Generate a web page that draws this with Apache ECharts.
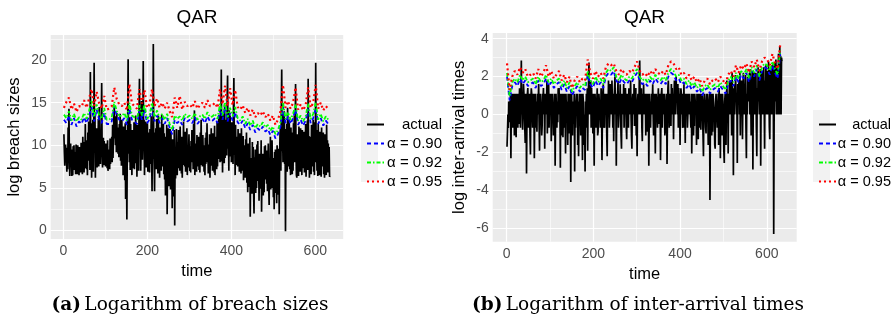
<!DOCTYPE html>
<html><head><meta charset="utf-8">
<script src="https://cdn.jsdelivr.net/npm/echarts@6/dist/echarts.min.js"></script>
<style>html,body{margin:0;padding:0;background:#fff}#c{width:895px;height:320px}</style>
</head><body><div id="c"></div>
<script>
// "actual" series: one value per observation, time = 1..635
// quantile series: read every 6th observation, at these times
const timeQ = [1,7,13,19,25,31,37,43,49,55, 61,67,73,79,85,91,97,103,109,115, 121,127,133,139,145,151,157,163,169,175,
 181,187,193,199,205,211,217,223,229,235, 241,247,253,259,265,271,277,283,289,295, 301,307,313,319,325,331,337,343,349,355,
 361,367,373,379,385,391,397,403,409,415, 421,427,433,439,445,451,457,463,469,475, 481,487,493,499,505,511,517,523,529,535,
 541,547,553,559,565,571,577,583,589,595, 601,607,613,619,625,631];

// (a) log breach sizes
const breachActual = [
 11.3,9.2,7.6, 7.4,10.1,8.3, 8.8,6.9,9.7, 7.2,12.1,9.0, 14.3,8.5,6.4, 6.5,10.2,7.9, 9.5,6.4,8.6, 6.5,9.9,7.3, 10.0,7.1,9.2, 7.8,6.6,10.1,
 8.0,9.4,6.6, 10.0,7.7,8.9, 6.5,9.8,7.4, 9.6,6.8,10.3, 7.0,8.7,6.6, 11.0,7.6,9.3, 6.8,10.4,8.1, 12.5,7.3,10.6, 7.2,9.6,6.5, 11.5,8.2,12.8,
 9.0,11.8,7.1, 18.6,8.4,12.6, 6.2,10.9,7.6, 13.0,6.9,11.4, 19.7,9.1,13.6, 6.2,11.7,8.3, 12.0,7.4,10.2, 8.0,13.1,7.5, 14.5,8.8,11.3, 7.8,10.5,12.9,
 17.3,9.6,7.4, 8.0,10.9,7.7, 10.5,8.2,9.6, 7.5,10.2,8.1, 9.8,7.3,10.6, 7.0,9.1,8.4, 9.5,7.2,10.8, 7.8,9.4,8.6, 11.0,8.0,12.4, 8.5,10.7,13.2,
 14.5,10.8,12.9, 10.0,13.4,9.2, 13.8,9.9,12.1, 9.0,11.7,8.6, 12.5,9.4,13.7, 8.2,11.9,7.6, 13.0,8.9,11.4, 6.5,12.2,8.0, 10.5,5.9,12.6, 3.7,11.8,8.5,
 1.3,9.7,13.1, 20.1,9.0,11.6, 8.0,13.3,7.1, 12.5,8.7,10.9, 6.5,11.8,9.2, 11.0,7.3,12.7, 7.2,10.3,8.5, 13.5,7.9,11.1, 6.3,12.4,9.0, 10.5,7.0,13.9,
 17.8,9.5,12.8, 7.0,11.4,15.2, 12.0,8.3,10.6, 19.9,9.7,13.0, 6.5,10.8,8.1, 12.8,7.4,11.2, 8.0,12.6,6.9, 11.5,8.6,10.1, 6.8,11.9,7.8, 10.0,13.4,9.1,
 4.6,12.3,8.4, 21.9,10.2,7.9, 4.6,11.5,8.0, 12.0,7.2,13.1, 8.5,11.0,6.7, 13.5,9.4,10.9, 6.2,12.1,8.3, 11.0,7.0,13.6, 7.5,10.8,8.9, 12.5,6.6,11.4,
 6.0,9.7,4.1, 11.0,7.5,12.4, 1.9,9.1,6.4, 12.0,5.2,10.3, 6.0,11.9,4.8, 11.5,7.6,9.2, 2.6,10.7,5.5, 10.0,4.0,11.8, 0.6,8.9,6.1, 9.0,11.9,7.2,
 6.5,10.4,8.0, 11.8,7.3,9.9, 7.0,12.2,8.4, 9.5,6.7,11.0, 6.2,9.8,7.7, 12.8,8.1,10.4, 7.5,11.6,6.9, 10.5,8.3,12.0, 6.5,9.6,7.4, 9.0,11.3,8.2,
 7.0,9.9,6.8, 10.5,8.0,11.8, 8.0,10.6,7.2, 12.5,8.8,14.1, 6.5,10.2,7.9, 9.5,6.9,11.2, 7.5,10.8,8.4, 11.0,7.1,9.7, 6.8,11.5,8.8, 13.0,7.7,10.3,
 7.5,11.2,8.6, 10.0,6.9,9.4, 6.5,10.9,7.8, 11.5,8.3,12.6, 8.0,10.1,6.7, 9.5,7.4,11.3, 6.2,9.9,8.1, 12.0,7.6,10.7, 7.0,11.4,8.5, 10.5,6.8,12.3,
 6.5,10.3,8.7, 11.0,7.2,12.8, 7.5,11.9,9.0, 13.5,8.4,10.9, 8.0,14.6,9.3, 18.9,8.1,12.2, 6.8,13.7,9.5, 12.5,7.9,14.8, 8.5,11.6,9.1, 13.0,8.8,15.4,
 18.2,9.6,12.9, 7.0,14.1,8.7, 13.5,9.2,11.8, 8.0,12.7,9.9, 12.0,7.8,14.3, 17.9,8.9,11.5, 6.5,12.4,9.3, 11.0,7.7,10.6, 7.5,11.9,8.2, 10.5,6.9,11.4,
 8.0,10.8,6.7, 12.0,8.4,9.7, 7.0,11.1,5.9, 10.0,6.8,9.2, 6.2,10.7,7.9, 11.5,5.6,8.8, 4.5,10.2,6.4, 9.0,5.1,10.9, 1.6,8.3,6.0, 8.5,4.3,10.4,
 6.0,9.8,4.7, 2.0,8.6,6.3, 9.5,4.4,7.8, 5.0,10.1,6.6, 10.5,5.8,8.2, 3.5,9.0,5.4, 8.0,4.9,10.6, 2.2,7.7,5.9, 9.0,4.1,8.4, 4.5,9.9,6.2,
 10.0,6.0,8.9, 5.5,9.4,4.6, 7.5,10.2,5.3, 3.0,8.1,6.7, 11.0,4.8,9.0, 5.0,10.6,6.2, 8.5,3.9,7.6, 2.5,9.2,5.7, 9.5,4.4,8.3, 3.2,10.0,6.0,
 7.5,4.2,9.6, 1.9,8.8,11.4, 12.0,7.0,14.2, 18.9,9.3,12.7, 8.0,13.5,10.1, 14.0,7.8,11.9, -0.1,10.6,8.2, 12.5,6.9,14.4, 7.5,11.3,8.6, 13.0,7.2,10.8,
 6.5,12.1,8.3, 11.5,6.6,10.2, 7.0,12.6,9.1, 13.5,8.0,11.7, 17.2,9.4,6.5, 6.2,11.3,8.8, 10.5,6.4,12.2, 7.5,10.9,6.9, 12.0,8.1,10.4, 6.5,11.8,7.7,
 10.0,7.3,11.6, 6.8,10.7,8.4, 12.5,6.3,9.8, 8.0,12.9,7.1, 17.8,8.7,11.1, 6.2,10.3,7.8, 11.0,6.6,12.4, 7.5,11.2,8.9, 13.0,6.9,10.1, 6.5,12.7,8.0,
 19.7,8.4,11.8, 7.0,10.9,6.4, 12.5,8.1,10.2, 6.5,11.6,7.4, 10.5,6.3,12.1, 7.5,10.4,8.2, 11.5,6.6,9.7, 6.2,11.3,7.9, 10.0,6.5,12.4, 7.0,10.6,6.8,
 10.2,7.1,9.8, 6.3,6.4];
const breachQ90 = [13.0,12.6,13.5,12.4,13.2,12.2,12.8,12.5,13.3,12.6, 13.5,14.5,12.8,14.2,13.0,12.6,13.8,12.5,12.5,12.8,
 14.6,13.5,13.0,12.8,13.2,12.4,14.3,13.0,12.8,12.5, 14.0,13.0,14.2,12.6,13.0,14.4,12.8,13.5,12.6,13.2,
 12.5,13.2,12.0,11.3,13.0,12.6,12.9,12.4,13.2,12.8, 13.0,12.6,13.3,12.5,12.9,13.1,12.6,13.4,12.8,12.9,
 13.2,12.6,14.3,13.0,14.5,12.8,13.8,12.9,13.9,12.7, 12.4,12.9,12.0,12.6,11.8,12.4,11.5,12.0,11.7,12.2,
 11.6,11.9,11.2,11.7,10.8,11.3,12.2,14.5,12.6,13.4, 12.5,13.2,14.2,12.4,13.0,12.3,12.9,14.3,12.6,13.2,
 14.4,12.5,13.2,12.3,12.9,12.5];
const breachQ92 = [13.6,13.2,14.0,12.9,13.7,12.8,13.3,13.0,13.8,13.1, 14.1,15.2,13.3,14.8,13.5,13.1,14.4,13.0,13.0,13.3,
 15.1,14.0,13.5,13.4,13.8,12.9,15.0,13.5,13.3,13.0, 14.7,13.5,14.8,13.1,13.5,15.0,13.3,14.1,13.1,13.7,
 13.0,13.7,12.5,11.8,13.5,13.1,13.4,12.9,13.7,13.3, 13.5,13.1,13.8,13.0,13.4,13.6,13.1,13.9,13.3,13.4,
 13.7,13.1,14.9,13.5,15.1,13.3,14.4,13.4,14.5,13.2, 12.9,13.4,12.5,13.1,12.3,12.9,12.0,12.5,12.2,12.7,
 12.1,12.4,11.7,12.2,11.3,11.8,12.7,15.1,13.1,13.9, 13.0,13.7,14.8,12.9,13.5,12.8,13.4,14.9,13.1,13.7,
 15.0,13.0,13.7,12.8,13.4,13.0];
const breachQ95 = [14.4,15.1,15.6,14.2,14.9,13.9,14.6,14.5,15.3,14.4, 15.5,16.6,14.6,16.3,14.9,14.3,15.8,14.2,14.3,14.6,
 16.8,15.4,14.8,14.6,15.0,14.1,17.2,14.9,14.6,14.3, 16.6,14.9,16.5,14.4,14.8,16.6,14.6,15.5,14.4,15.0,
 14.3,15.0,14.0,13.3,15.6,14.4,15.8,14.2,15.1,14.6, 14.8,14.4,15.2,14.3,14.7,15.0,14.4,15.3,14.6,14.7,
 15.0,14.4,16.6,14.8,17.0,14.6,16.7,14.7,16.5,14.5, 14.2,14.7,13.8,14.4,13.5,14.2,13.3,13.8,13.5,14.0,
 13.3,13.7,12.9,13.5,12.4,13.0,14.0,17.1,14.4,15.2, 14.3,15.0,16.8,14.2,14.8,14.1,14.7,16.8,14.4,15.0,
 17.1,14.3,15.0,14.1,14.6,14.3];

// (b) log inter-arrival times
const iatActual = [
 -1.7,-0.9,0.0, -0.7,0.69,-0.4, 0.7,0.0,1.1, -2.3,0.69,0.0, 1.1,-0.69,0.69, 0.0,1.1,-1.1, 1.1,0.0,0.69, -1.2,1.1,0.0, 0.7,-0.69,1.1, -0.5,0.69,1.39,
 1.1,-0.69,0.69, 2.85,0.0,1.1, -0.8,0.69,1.61, 1.1,0.0,-0.69, -1.5,1.1,0.69, -3.1,0.0,1.1, 1.4,-0.69,0.69, 0.0,1.1,-1.1, -2.1,0.69,1.39, 1.1,0.0,-0.69,
 0.0,1.1,0.69, -2.3,0.0,1.1, 1.1,-0.69,0.69, -0.9,1.1,0.0, 0.7,1.61,-0.4, -1.9,0.69,1.1, 1.1,0.0,-1.1, -0.6,1.1,0.69, 1.4,0.0,0.69, -1.8,1.1,0.0,
 1.1,0.0,1.79, -1.0,0.69,0.0, 1.6,-0.69,1.1, 0.0,1.1,0.69, -1.4,0.69,1.1, 1.1,0.0,-1.1, -0.7,1.1,0.69, -2.7,0.0,1.1, 1.1,-0.69,0.69, -0.4,1.39,0.0,
 1.4,0.0,0.69, -2.8,1.1,0.0, 0.7,-1.1,1.1, -1.2,0.69,0.0, 1.1,-0.69,0.69, -2.05,1.1,0.0, 0.0,0.69,-1.6, 1.1,0.0,-0.69, -1.0,1.1,0.69, -3.55,0.0,1.1,
 1.1,-1.1,0.69, -0.5,0.0,1.1, -3.0,0.69,-0.69, 0.7,1.1,0.0, 1.1,-1.6,0.69, -2.2,0.0,1.1, 0.0,0.69,-1.1, 1.1,-0.69,0.0, -2.4,1.1,0.69, 0.7,-1.6,0.0,
 -3.0,0.69,0.0, 1.1,-0.69,1.39, -1.9,0.69,1.61, 2.75,0.0,1.1, 0.0,1.79,-0.69, 1.4,0.0,0.69, -1.0,1.1,0.0, -2.7,0.69,1.1, 1.1,-0.69,0.0, 0.7,1.39,-1.1,
 -0.9,0.69,1.1, 1.1,0.0,-0.69, 0.0,1.39,0.69, -2.4,0.0,1.1, 1.6,-0.69,0.69, -0.7,1.1,0.0, 1.1,0.69,-1.1, -2.2,1.1,0.0, 1.8,0.69,-0.69, 0.0,1.61,0.69,
 1.1,0.0,1.79, 0.7,-0.69,1.1, -1.4,0.69,1.39, 2.0,0.0,1.1, -2.7,0.69,0.0, 1.1,1.79,-0.69, 0.0,1.1,0.69, 1.6,0.0,-1.1, -1.8,1.1,0.69, 1.1,0.0,1.61,
 -0.7,1.1,0.0, 1.4,0.69,-0.69, -1.3,1.1,0.0, 1.1,-0.69,1.39, 0.0,1.1,0.69, 1.8,0.0,-1.1, -1.8,0.69,1.1, 1.1,0.0,1.61, -0.6,1.1,0.69, 1.4,-1.1,0.0,
 -2.2,0.69,1.1, 1.1,0.0,1.79, 2.85,0.69,0.0, 0.7,1.39,-0.69, -1.4,1.1,0.0, 1.6,0.0,0.69, 0.0,1.1,-1.1, 1.1,0.69,0.0, -0.9,1.1,0.69, -2.7,0.0,1.1,
 1.1,-0.69,0.69, 0.0,1.1,0.69, 1.6,0.0,-1.1, -0.8,1.1,0.0, -2.05,0.69,1.1, 1.1,0.0,-0.69, 0.7,1.39,0.0, -0.5,1.1,0.69, -2.4,0.0,1.1, 1.4,-0.69,0.69,
 0.0,1.1,0.69, 1.1,-1.1,0.0, -1.0,0.69,1.1, -2.6,0.0,1.39, 1.8,0.69,-0.69, 0.7,1.1,0.0, -0.6,1.61,0.69, 1.4,0.0,1.1, -1.3,0.69,1.79, 1.1,0.0,1.39,
 2.0,0.69,1.1, 0.0,1.61,-0.69, 1.4,0.0,1.1, -1.6,0.69,1.39, 1.1,0.0,0.69, -0.7,1.1,0.0, 1.6,-0.69,0.69, -1.5,1.1,0.0, 1.1,0.69,-0.69, 0.0,1.1,0.69,
 1.1,0.0,0.69, 0.7,-0.69,1.1, -2.05,0.0,0.69, 1.1,-1.1,0.0, -0.6,1.1,0.69, 0.0,0.69,-1.6, 1.1,0.0,0.69, -1.3,1.1,0.0, 0.7,-0.69,1.1, -0.8,0.69,0.0,
 1.1,0.0,-1.1, -2.2,0.69,1.1, 0.7,0.0,-0.69, -1.0,1.1,0.69, 1.1,0.0,-1.6, 0.0,0.69,1.1, -4.5,0.0,0.69, 1.1,-1.1,0.0, -0.9,1.1,0.69, 0.7,0.0,-1.6,
 -1.8,0.69,1.1, 1.1,0.0,-0.69, 0.0,1.1,-1.6, 1.4,0.0,0.69, -2.3,1.1,0.0, 0.7,-1.1,1.1, 1.1,0.0,-1.9, -2.55,0.69,1.1, 0.0,-1.6,0.69, 1.8,0.0,1.1,
 -2.05,1.1,0.69, 1.8,0.0,1.39, 0.0,1.79,-1.1, 2.2,0.69,1.1, -3.2,1.39,0.0, 1.6,0.69,2.08, 2.0,0.0,1.1, -2.55,1.61,0.69, 0.7,1.79,0.0, 2.2,-1.1,1.39,
 0.0,1.79,0.69, -1.3,1.1,2.2, 2.3,0.0,1.39, 1.1,2.08,-0.69, -2.3,1.1,0.0, 2.0,0.69,1.79, 0.7,2.2,0.0, 2.4,1.1,-1.1, 0.0,1.61,2.3, -2.9,1.39,0.0,
 2.2,0.0,1.61, 0.7,2.2,-0.69, -2.2,1.39,0.0, 2.5,0.69,1.79, 1.1,0.0,2.4, -2.7,1.1,2.08, 2.3,0.0,1.39, 0.0,2.5,0.69, -1.8,1.79,0.0, 2.6,1.1,0.0,
 0.7,2.3,0.0, 2.8,1.1,-0.69, -1.3,2.4,0.69, 2.2,0.0,2.6, 0.0,1.79,2.7, -6.3,0.0,2.2, 2.7,0.69,2.9, 0.0,2.6,0.0, 2.5,0.0,3.2, 3.3,0.0,3.6,
 0.0,3.1,0.0, 3.0,2.8];
const iatQ90 = [2.0,0.75,1.5,1.7,1.5,1.9,1.6,1.8,1.5,1.6, 1.7,1.4,1.8,1.5,1.6,1.9,1.5,1.7,1.4,1.6,
 1.7,1.3,1.6,1.2,1.5,1.0,1.3,1.5,1.2,1.4, 1.3,2.1,1.6,1.4,1.8,1.5,1.7,1.4,2.0,2.2,
 2.1,2.3,1.8,1.6,1.9,1.7,1.6,1.8,1.7,2.0, 2.2,1.8,1.6,1.7,1.5,1.8,1.6,1.9,1.7,1.6,
 1.8,1.6,2.0,2.2,2.1,1.8,1.9,1.6,1.7,1.4, 1.6,1.3,1.5,1.2,1.4,1.0,1.3,1.4,1.1,1.3,
 1.4,1.2,1.5,1.3,1.1,1.6,1.8,1.5,2.0,1.7, 2.1,1.9,2.2,1.7,2.3,2.0,2.4,1.8,2.3,2.5,
 2.4,2.1,2.6,2.2,1.9,3.2];
const iatQ92 = [2.2,0.95,1.7,1.9,1.7,2.1,1.8,2.0,1.7,1.8, 1.9,1.6,2.0,1.7,1.8,2.1,1.7,1.9,1.6,1.8,
 1.9,1.5,1.8,1.4,1.7,1.2,1.5,1.7,1.4,1.6, 1.5,2.3,1.8,1.6,2.0,1.7,1.9,1.6,2.2,2.4,
 2.3,2.5,2.0,1.8,2.1,1.9,1.8,2.0,1.9,2.2, 2.4,2.0,1.8,1.9,1.7,2.0,1.8,2.1,1.9,1.8,
 2.0,1.8,2.2,2.4,2.3,2.0,2.1,1.8,1.9,1.6, 1.8,1.5,1.7,1.4,1.6,1.2,1.5,1.6,1.3,1.5,
 1.6,1.4,1.7,1.5,1.3,1.8,2.0,1.7,2.2,1.9, 2.3,2.1,2.4,1.9,2.5,2.2,2.6,2.0,2.5,2.7,
 2.6,2.3,2.8,2.4,2.1,3.4];
const iatQ95 = [2.7,1.3,2.0,2.3,2.1,2.5,2.2,2.4,2.0,2.1, 2.2,1.9,2.4,2.0,2.2,2.6,2.0,2.3,1.9,2.1,
 2.3,1.8,2.1,1.7,2.0,1.4,1.8,2.0,1.7,1.9, 1.8,2.9,2.2,1.9,2.3,2.0,2.2,1.9,2.5,2.7,
 2.6,2.7,2.3,2.1,2.4,2.2,2.1,2.3,2.2,2.5, 2.8,2.3,2.1,2.2,2.0,2.3,2.1,2.4,2.2,2.1,
 2.3,2.1,2.6,2.8,2.7,2.4,2.5,2.1,2.2,1.9, 2.1,1.8,2.0,1.7,1.9,1.5,1.8,1.9,1.6,1.8,
 1.9,1.7,2.0,1.8,1.6,2.1,2.3,2.0,2.6,2.2, 2.6,2.4,2.7,2.2,2.8,2.5,2.9,2.3,2.8,3.0,
 2.9,2.6,3.2,2.7,2.4,3.7];

// ticks / gridlines / texts
const xTicks = [0,200,400,600];
const xMinor = [100,300,500];
const yTicksA = [0,5,10,15,20];
const yMinorA = [2.5,7.5,12.5,17.5,22.5];
const yTicksB = [-6,-4,-2,0,2,4];
const yMinorB = [-5,-3,-1,1,3];
const seriesNames = ['actual','α = 0.90','α = 0.92','α = 0.95'];
const panelTitles = ['QAR','QAR'];
const captionTags = ['(a)','(b)'];
const captionTexts = ['Logarithm of breach sizes','Logarithm of inter-arrival times'];
const yTitles = ['log breach sizes','log inter-arrival times'];
const xTitle = 'time';

const SANS = 'Liberation Sans';
// pair each value with its observation number (time index)
function indexed(v){ return v.map((y,i)=>[i+1, y]); }
function pairs(t, v){ return v.map((y,i)=>[t[i], y]); }

const grids = [
  {left:50.7, top:35, width:292.5, height:204},
  {left:492.7, top:33, width:304, height:208.7}
];
const xRanges = [[-30.5,666.5],[-32,669]];
const yRanges = [[-1.0,22.95],[-6.7,4.3]];
const yTicks = [yTicksA, yTicksB];
const yMinor = [yMinorA, yMinorB];
const panels = [
  [breachActual, breachQ90, breachQ92, breachQ95],
  [iatActual, iatQ90, iatQ92, iatQ95]
];
const styles = [
  {color:'#000000', width:1.7, type:'solid'},
  {color:'#0000FF', width:1.8, type:[4,3]},
  {color:'#00FF00', width:1.8, type:[4,2,1.5,2]},
  {color:'#FF0000', width:2.2, type:[2,3]}
];

function gridLines(p){
  const d = [];
  yMinor[p].forEach(v=>d.push({yAxis:v, lineStyle:{color:'#fff', width:0.6, type:'solid'}}));
  xMinor.forEach(v=>d.push({xAxis:v, lineStyle:{color:'#fff', width:0.6, type:'solid'}}));
  yTicks[p].forEach(v=>d.push({yAxis:v, lineStyle:{color:'#fff', width:1.2, type:'solid'}}));
  xTicks.forEach(v=>d.push({xAxis:v, lineStyle:{color:'#fff', width:1.2, type:'solid'}}));
  return d;
}

const series = [];
[0,1].forEach(p=>{
  panels[p].forEach((vals, k)=>{
    const s = {
      name: seriesNames[k], type:'line', xAxisIndex:p, yAxisIndex:p,
      data: k===0 ? indexed(vals) : pairs(timeQ, vals),
      symbol:'none', showSymbol:false, animation:false, z:2+k,
      lineStyle: styles[k], itemStyle:{color:styles[k].color},
      emphasis:{disabled:true}
    };
    if (k===0) {
      s.markLine = {silent:true, symbol:'none', z:1, animation:false, label:{show:false},
        emphasis:{disabled:true}, data: gridLines(p)};
    }
    series.push(s);
  });
});

const xAxes = [0,1].map(p=>({
  type:'value', gridIndex:p, min:xRanges[p][0], max:xRanges[p][1],
  axisLine:{show:false},
  axisTick:{show:true, length:3, lineStyle:{color:'#333333', width:1}, customValues:xTicks},
  axisLabel:{customValues:xTicks, color:'#4D4D4D', fontSize:14, fontFamily:SANS, margin:5},
  splitLine:{show:false},
  name:xTitle, nameLocation:'middle', nameGap:24,
  nameTextStyle:{color:'#000', fontSize:16.5, fontFamily:SANS}
}));
const yAxes = [0,1].map(p=>({
  type:'value', gridIndex:p, min:yRanges[p][0], max:yRanges[p][1],
  axisLine:{show:false},
  axisTick:{show:true, length:3, lineStyle:{color:'#333333', width:1}, customValues:yTicks[p]},
  axisLabel:{customValues:yTicks[p], color:'#4D4D4D', fontSize:14, fontFamily:SANS, margin:4},
  splitLine:{show:false},
  name:yTitles[p], nameLocation:'middle', nameGap: p===0 ? 28 : 25,
  nameTextStyle:{color:'#000', fontSize:16.5, fontFamily:SANS}
}));

const legendPos = [{left:361, top:112, w:53, fs:15}, {left:813, top:112, w:50, fs:14.5}];
const legends = legendPos.map(lp=>({
  left:lp.left, top:lp.top, orient:'vertical', itemWidth:17, itemHeight:14, itemGap:4,
  data: seriesNames, selectedMode:false,
  itemStyle:{opacity:0, borderWidth:0},
  formatter: n=>'{r|'+n+'}',
  textStyle:{color:'#000', fontFamily:SANS, fontSize:lp.fs,
    rich:{r:{width:lp.w, align:'right', fontSize:lp.fs, fontFamily:SANS, color:'#000', lineHeight:14}}}
}));

const graphic = [
  {type:'rect', shape:{x:361, y:109, width:17, height:73}, style:{fill:'#F2F2F2'}, z:-1, silent:true},
  {type:'rect', shape:{x:813, y:110, width:17, height:72}, style:{fill:'#F2F2F2'}, z:-1, silent:true},
  {type:'text', x:197, y:18, style:{text:panelTitles[0], textAlign:'center', textVerticalAlign:'middle', font:'19px "Liberation Sans"', fill:'#000'}},
  {type:'text', x:644.5, y:18, style:{text:panelTitles[1], textAlign:'center', textVerticalAlign:'middle', font:'19px "Liberation Sans"', fill:'#000'}},
  {type:'text', x:190, y:305, style:{text:'{b|'+captionTags[0]+'} {n|'+captionTexts[0]+'}', textAlign:'center', textVerticalAlign:'middle',
    rich:{b:{fontWeight:'bold', fontFamily:'DejaVu Serif', fontSize:18.5, fill:'#000'}, n:{fontFamily:'DejaVu Serif', fontSize:18.5, fill:'#000'}}}},
  {type:'text', x:638, y:305, style:{text:'{b|'+captionTags[1]+'} {n|'+captionTexts[1]+'}', textAlign:'center', textVerticalAlign:'middle',
    rich:{b:{fontWeight:'bold', fontFamily:'DejaVu Serif', fontSize:18.5, fill:'#000'}, n:{fontFamily:'DejaVu Serif', fontSize:18.5, fill:'#000'}}}}
];

const chart = echarts.init(document.getElementById('c'), null, {renderer:'canvas'});
chart.setOption({
  backgroundColor:'#ffffff',
  animation:false,
  grid: grids.map(g=>Object.assign({show:true, backgroundColor:'#EBEBEB', borderWidth:0, containLabel:false}, g)),
  xAxis: xAxes, yAxis: yAxes,
  legend: legends,
  series: series,
  graphic: graphic
});
</script></body></html>
